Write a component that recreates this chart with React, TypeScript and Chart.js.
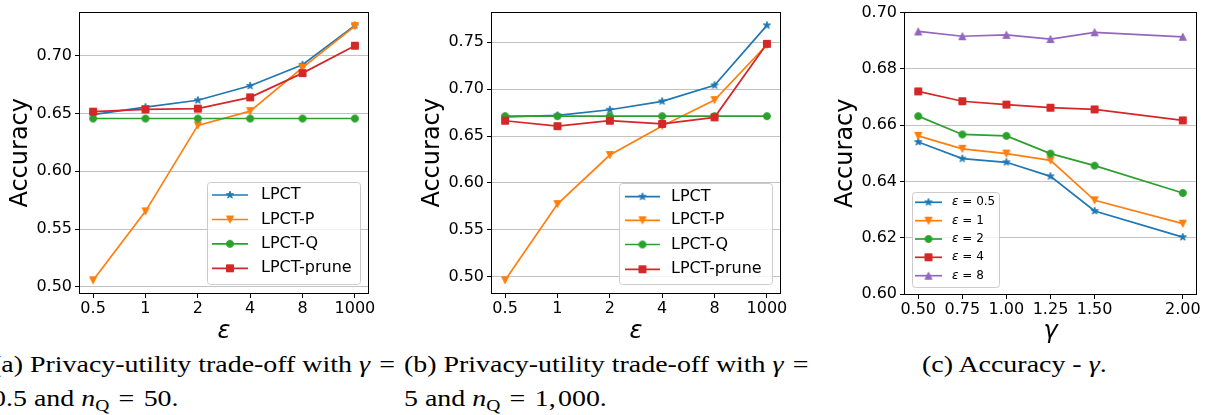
import React, { useEffect, useLayoutEffect, useRef, useState } from 'react';
import { Chart, registerables } from 'chart.js';

Chart.register(...registerables);

const FONT = "'DejaVu Sans', sans-serif";
Chart.defaults.font.family = FONT;
Chart.defaults.color = '#000';

const BLUE = '#1f77b4';
const ORANGE = '#ff7f0e';
const GREEN = '#2ca02c';
const RED = '#d62728';
const PURPLE = '#9467bd';

// ---------- data ----------
const EPS_LABELS = ['0.5', '1', '2', '4', '8', '1000'];

const A_LPCT = [0.649, 0.6555, 0.6615, 0.674, 0.6922, 0.7263];
const A_LPCT_P = [0.5056, 0.5653, 0.6397, 0.6521, 0.6898, 0.7257];
const A_LPCT_Q = [0.6457, 0.6457, 0.6457, 0.6457, 0.6457, 0.6457];
const A_LPCT_PRUNE = [0.6516, 0.6536, 0.6542, 0.664, 0.685, 0.7087];
const A_YTICKS = [0.5, 0.55, 0.6, 0.65, 0.7];

const B_LPCT = [0.6705, 0.672, 0.678, 0.687, 0.704, 0.768];
const B_LPCT_P = [0.4962, 0.5774, 0.6297, 0.6608, 0.6883, 0.7473];
const B_LPCT_Q = [0.6712, 0.6712, 0.6712, 0.6712, 0.6712, 0.6712];
const B_LPCT_PRUNE = [0.6663, 0.6605, 0.6663, 0.6629, 0.6699, 0.7483];
const B_YTICKS = [0.5, 0.55, 0.6, 0.65, 0.7, 0.75];

const GAMMAS = [0.5, 0.75, 1.0, 1.25, 1.5, 2.0];
const C_EPS05 = [0.654, 0.6481, 0.6468, 0.6418, 0.6295, 0.6202];
const C_EPS1 = [0.6562, 0.6516, 0.6499, 0.6475, 0.6333, 0.625];
const C_EPS2 = [0.6632, 0.6567, 0.6562, 0.6499, 0.6456, 0.6359];
const C_EPS4 = [0.672, 0.6685, 0.6673, 0.6662, 0.6656, 0.6617];
const C_EPS8 = [0.6933, 0.6916, 0.6921, 0.6906, 0.693, 0.6914];
const C_YTICKS = [0.6, 0.62, 0.64, 0.66, 0.68, 0.7];

const METHOD_LABELS = ['LPCT', 'LPCT-P', 'LPCT-Q', 'LPCT-prune'];
const EPS_SERIES_LABELS = ['0.5', '1', '2', '4', '8'];

// ---------- markers ----------
function makeMarker(shape: string, color: string, size = 7): HTMLCanvasElement {
  const c = document.createElement('canvas');
  c.width = 14;
  c.height = 14;
  const ctx = c.getContext('2d')!;
  ctx.translate(7, 7);
  const r = size / 2;
  ctx.beginPath();
  if (shape === 'circle') ctx.arc(0, 0, r, 0, Math.PI * 2);
  else if (shape === 'square') ctx.rect(-r, -r, 2 * r, 2 * r);
  else if (shape === 'tri_down') {
    ctx.moveTo(0, r);
    ctx.lineTo(-r, -r);
    ctx.lineTo(r, -r);
    ctx.closePath();
  } else if (shape === 'tri_up') {
    ctx.moveTo(0, -r);
    ctx.lineTo(-r, r);
    ctx.lineTo(r, r);
    ctx.closePath();
  } else {
    const R = r * 1.1;
    for (let k = 0; k < 10; k++) {
      const rad = k % 2 === 0 ? R : R * 0.382;
      const ang = -Math.PI / 2 + (k * Math.PI) / 5;
      const px = rad * Math.cos(ang);
      const py = rad * Math.sin(ang);
      if (k === 0) ctx.moveTo(px, py);
      else ctx.lineTo(px, py);
    }
    ctx.closePath();
  }
  ctx.fillStyle = color;
  ctx.fill();
  ctx.strokeStyle = color;
  ctx.lineWidth = 1;
  ctx.stroke();
  return c;
}

type Part = { text: string; italic?: boolean };
type Series = { label: Part[]; color: string; shape: string; xs: number[]; ys: number[] };
type LegendCfg = {
  box: [number, number, number, number];
  rowsY: number[];
  line: [number, number];
  textX: number;
  fontSize: number;
};
type PanelCfg = {
  left: number;
  top: number;
  w: number;
  h: number;
  padTop: number;
  padRight: number;
  xAxisH: number;
  xMin: number;
  xMax: number;
  xTicks: number[];
  xFmt: (v: number) => string;
  xTitle: string;
  yMin: number;
  yMax: number;
  yTicks: number[];
  series: Series[];
  legend: LegendCfg;
};

const LINE_W = 1.7;

function makePlugin(cfg: PanelCfg, markers: HTMLCanvasElement[]) {
  return {
    id: 'frameLegend',
    afterDraw(chart: any) {
      const { ctx, chartArea: a } = chart;
      ctx.save();
      ctx.strokeStyle = '#000';
      ctx.lineWidth = 1;
      const l = Math.round(a.left) + 0.5;
      const t = Math.round(a.top) + 0.5;
      const r = Math.round(a.right) + 0.5;
      const b = Math.round(a.bottom) + 0.5;
      ctx.strokeRect(l - 1, t - 1, r - l + 1, b - t + 1);
      const L = cfg.legend;
      const ox = cfg.left;
      const oy = cfg.top;
      const [bx, by, bw, bh] = L.box;
      ctx.beginPath();
      if ((ctx as any).roundRect) (ctx as any).roundRect(bx - ox + 0.5, by - oy + 0.5, bw, bh, 3);
      else ctx.rect(bx - ox + 0.5, by - oy + 0.5, bw, bh);
      ctx.fillStyle = 'rgba(255,255,255,0.8)';
      ctx.fill();
      ctx.strokeStyle = '#cccccc';
      ctx.lineWidth = 1;
      ctx.stroke();
      cfg.series.forEach((s, i) => {
        const y = L.rowsY[i] - oy;
        const x1 = L.line[0] - ox;
        const x2 = L.line[1] - ox;
        ctx.beginPath();
        ctx.moveTo(x1, y);
        ctx.lineTo(x2, y);
        ctx.strokeStyle = s.color;
        ctx.lineWidth = LINE_W;
        ctx.stroke();
        const m = markers[i];
        ctx.drawImage(m, (x1 + x2) / 2 - m.width / 2, y - m.height / 2);
        let tx = L.textX - ox;
        ctx.fillStyle = '#000';
        ctx.textBaseline = 'middle';
        ctx.textAlign = 'left';
        s.label.forEach((p) => {
          ctx.font = `${p.italic ? 'italic ' : ''}${L.fontSize}px ${FONT}`;
          ctx.fillText(p.text, tx, y);
          tx += ctx.measureText(p.text).width;
        });
      });
      ctx.restore();
    },
  };
}

function ChartPanel({ cfg }: { cfg: PanelCfg }) {
  const ref = useRef<HTMLCanvasElement>(null);
  useEffect(() => {
    const markers = cfg.series.map((s) => makeMarker(s.shape, s.color));
    const n = cfg.series.length;
    const chart = new Chart(ref.current!, {
      type: 'line',
      data: {
        datasets: cfg.series.map((s, i) => ({
          label: s.label.map((p) => p.text).join(''),
          data: s.xs.map((x, j) => ({ x, y: s.ys[j] })),
          borderColor: s.color,
          backgroundColor: s.color,
          borderWidth: LINE_W,
          pointStyle: markers[i] as any,
          pointRadius: 4,
          pointHoverRadius: 4,
          tension: 0,
          fill: false,
          order: n - i,
        })),
      },
      options: {
        responsive: false,
        animation: false,
        devicePixelRatio: 1,
        events: [],
        layout: { padding: { left: 0, top: cfg.padTop, right: cfg.padRight, bottom: 0 } },
        plugins: { legend: { display: false }, tooltip: { enabled: false } },
        scales: {
          x: {
            type: 'linear',
            min: cfg.xMin,
            max: cfg.xMax,
            afterBuildTicks: (ax: any) => {
              ax.ticks = cfg.xTicks.map((v) => ({ value: v }));
            },
            afterFit: (s: any) => {
              s.height = cfg.xAxisH;
            },
            ticks: {
              callback: (v: any) => cfg.xFmt(Number(v)),
              font: { size: 16 },
              padding: 1,
              maxRotation: 0,
              autoSkip: false,
              color: '#000',
            },
            grid: {
              display: true,
              drawOnChartArea: false,
              drawTicks: true,
              tickLength: 5,
              tickColor: '#000',
              tickWidth: 1,
            },
            border: { display: false },
            title: {
              display: true,
              text: cfg.xTitle,
              font: { size: 24, style: 'italic', lineHeight: 1 },
              padding: { top: 0, bottom: 6 },
              color: '#000',
            },
          },
          y: {
            type: 'linear',
            min: cfg.yMin,
            max: cfg.yMax,
            afterBuildTicks: (ax: any) => {
              ax.ticks = cfg.yTicks.map((v) => ({ value: v }));
            },
            afterFit: (s: any) => {
              s.width = 80;
            },
            ticks: {
              callback: (v: any) => Number(v).toFixed(2),
              font: { size: 16 },
              padding: 3,
              autoSkip: false,
              color: '#000',
            },
            grid: {
              color: '#c2c2c2',
              lineWidth: 1,
              drawTicks: true,
              tickLength: 5,
              tickColor: '#000',
              tickWidth: 1,
            },
            border: { display: false },
            title: {
              display: true,
              text: 'Accuracy',
              font: { size: 24, lineHeight: 1 },
              padding: { top: 9, bottom: 0 },
              color: '#000',
            },
          },
        },
      } as any,
      plugins: [makePlugin(cfg, markers)],
    });
    return () => chart.destroy();
  }, [cfg]);
  return (
    <canvas
      ref={ref}
      width={cfg.w}
      height={cfg.h}
      style={{ position: 'absolute', left: cfg.left, top: cfg.top, width: cfg.w, height: cfg.h }}
    />
  );
}

const IDX = [0, 1, 2, 3, 4, 5];
const epsFmt = (v: number) => EPS_LABELS[Math.round(v)] ?? '';

function methodSeries(vals: number[][]): Series[] {
  const colors = [BLUE, ORANGE, GREEN, RED];
  const shapes = ['star', 'tri_down', 'circle', 'square'];
  return vals.map((ys, i) => ({
    label: [{ text: METHOD_LABELS[i] }],
    color: colors[i],
    shape: shapes[i],
    xs: IDX,
    ys,
  }));
}

const PANEL_A: PanelCfg = {
  left: 0,
  top: 0,
  w: 380,
  h: 350,
  padTop: 6,
  padRight: 12,
  xAxisH: 57,
  xMin: -0.25,
  xMax: 5.25,
  xTicks: IDX,
  xFmt: epsFmt,
  xTitle: 'ε',
  yMin: 0.4946,
  yMax: 0.7374,
  yTicks: A_YTICKS,
  series: methodSeries([A_LPCT, A_LPCT_P, A_LPCT_Q, A_LPCT_PRUNE]),
  legend: { box: [207, 182, 153, 102], rowsY: [195, 219.5, 243.8, 268.3], line: [212, 248], textX: 261, fontSize: 16 },
};

const PANEL_B: PanelCfg = {
  left: 412,
  top: 0,
  w: 380,
  h: 350,
  padTop: 6,
  padRight: 12,
  xAxisH: 57,
  xMin: -0.25,
  xMax: 5.25,
  xTicks: IDX,
  xFmt: epsFmt,
  xTitle: 'ε',
  yMin: 0.4826,
  yMax: 0.7816,
  yTicks: B_YTICKS,
  series: methodSeries([B_LPCT, B_LPCT_P, B_LPCT_Q, B_LPCT_PRUNE]),
  legend: { box: [619, 183, 153, 101], rowsY: [196.7, 220.3, 244.5, 269.3], line: [625, 660], textX: 671, fontSize: 16 },
};

const PANEL_C: PanelCfg = {
  left: 825,
  top: 0,
  w: 382,
  h: 350,
  padTop: 12,
  padRight: 11,
  xAxisH: 56,
  xMin: 0.425,
  xMax: 2.075,
  xTicks: GAMMAS,
  xFmt: (v) => v.toFixed(2),
  xTitle: 'γ',
  yMin: 0.6,
  yMax: 0.7,
  yTicks: C_YTICKS,
  series: [C_EPS05, C_EPS1, C_EPS2, C_EPS4, C_EPS8].map((ys, i) => ({
    label: [{ text: 'ε', italic: true }, { text: ' = ' + EPS_SERIES_LABELS[i] }],
    color: [BLUE, ORANGE, GREEN, RED, PURPLE][i],
    shape: ['star', 'tri_down', 'circle', 'square', 'tri_up'][i],
    xs: GAMMAS,
    ys,
  })),
  legend: { box: [912, 192, 87, 95], rowsY: [202.3, 220.7, 239, 257.3, 275.7], line: [915, 942], textX: 952, fontSize: 12 },
};

const CAP_FONT = "'Liberation Serif', 'Times New Roman', serif";
const SP = '\u2004';

function CapLine({ left, top, scale, children, refEl }: any) {
  return (
    <div
      style={{
        position: 'absolute',
        left,
        top,
        whiteSpace: 'nowrap',
        lineHeight: '30px',
        height: 30,
        fontFamily: CAP_FONT,
        fontSize: 23,
        color: '#000',
      }}
    >
      <span ref={refEl} style={{ display: 'inline-block', transformOrigin: 'left center', transform: `scaleX(${scale})` }}>
        {children}
      </span>
    </div>
  );
}

const NQ = (
  <>
    <i>n</i>
    <span style={{ fontSize: '0.7em', verticalAlign: '-0.3em', lineHeight: 0 }}>Q</span>
  </>
);

export default function App() {
  const refA = useRef<HTMLSpanElement>(null);
  const [scale, setScale] = useState(1);
  useLayoutEffect(() => {
    const el = refA.current;
    if (!el) return;
    const w = el.offsetWidth;
    if (w > 0) setScale(403 / w);
  }, []);
  return (
    <div
      style={{
        position: 'fixed',
        left: 0,
        top: 0,
        width: 1211,
        height: 415,
        background: '#fff',
        overflow: 'hidden',
      }}
    >
      <ChartPanel cfg={PANEL_A} />
      <ChartPanel cfg={PANEL_B} />
      <ChartPanel cfg={PANEL_C} />
      <CapLine left={-8} top={350} scale={scale} refEl={refA}>
        (a) Privacy-utility trade-off with <i>γ</i>
        {SP}=
      </CapLine>
      <CapLine left={-8} top={384} scale={scale}>
        0.5 and {NQ}
        {SP}={SP}50.
      </CapLine>
      <CapLine left={404} top={350} scale={scale}>
        (b) Privacy-utility trade-off with <i>γ</i>
        {SP}=
      </CapLine>
      <CapLine left={404} top={384} scale={scale}>
        5 and {NQ}
        {SP}={SP}1,{'\u200A'}000.
      </CapLine>
      <CapLine left={922} top={350} scale={scale}>
        (c) Accuracy - <i>γ</i>.
      </CapLine>
    </div>
  );
}
